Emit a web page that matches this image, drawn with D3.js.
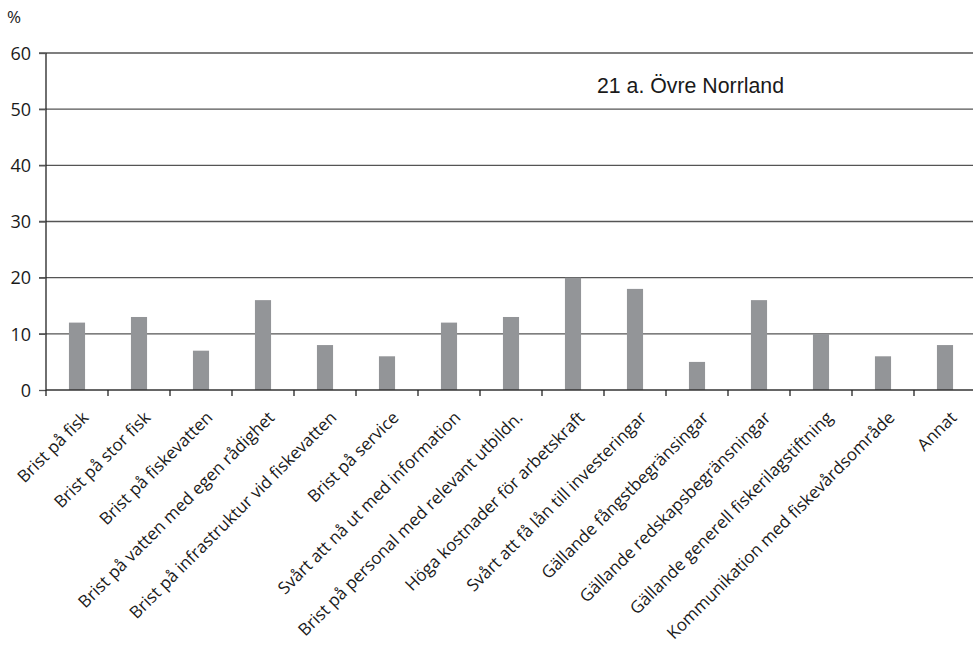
<!DOCTYPE html>
<html><head><meta charset="utf-8">
<script src="https://cdn.jsdelivr.net/npm/d3@7"></script>
<style>body{margin:0;background:#fff}svg{display:block}text{font-family:"Open Sans","Noto Sans",sans-serif;fill:#1a1a1a}</style>
</head><body>
<svg id="c" width="973" height="653"></svg>
<script>
const categories = ["Brist på fisk","Brist på stor fisk","Brist på fiskevatten","Brist på vatten med egen rådighet","Brist på infrastruktur vid fiskevatten","Brist på service","Svårt att nå ut med information","Brist på personal med relevant utbildn.","Höga kostnader för arbetskraft","Svårt att få lån till investeringar","Gällande fångstbegränsingar","Gällande redskapsbegränsningar","Gällande generell fiskerilagstiftning","Kommunikation med fiskevårdsområde","Annat"];
const values = [12,13,7,16,8,6,12,13,20,18,5,16,10,6,8];
const yTicks = [0,10,20,30,40,50,60];
const title = "21 a. Övre Norrland";
const unit = "%";

const svg = d3.select("#c");
const L = 46, R = 976, T = 53, B = 390;
const x = d3.scaleBand().domain(categories).range([L, R]).paddingInner(0.74).paddingOuter(0.37);
const y = d3.scaleLinear().domain([0,60]).range([B, T]);

// gridlines
svg.append("g").selectAll("line").data(yTicks.filter(d=>d>0)).join("line")
  .attr("x1", L-7).attr("x2", 973).attr("y1", d=>y(d)).attr("y2", d=>y(d))
  .attr("stroke","#555").attr("stroke-width",1.3);

// bars
svg.append("g").selectAll("rect").data(values).join("rect")
  .attr("x",(d,i)=>x(categories[i])).attr("width",x.bandwidth())
  .attr("y",d=>y(d)).attr("height",d=>B-y(d)).attr("fill","#939598");

// y axis
const ya = d3.axisLeft(y).tickValues(yTicks).tickSize(7).tickPadding(8);
const gy = svg.append("g").attr("transform",`translate(${L},0)`).call(ya);
gy.select(".domain").attr("stroke","#222").attr("stroke-width",1.3).attr("d",`M0,${T}V${B}`);
gy.selectAll(".tick line").attr("stroke","#555").attr("stroke-width",1.3);
gy.selectAll(".tick text").style("font-size","18px").style("font-family","'Open Sans',sans-serif").attr("dy","0.35em").attr("fill","#1a1a1a");

// x axis baseline with boundary ticks
const step = x.step();
svg.append("line").attr("x1",L).attr("x2",973).attr("y1",B).attr("y2",B).attr("stroke","#333").attr("stroke-width",1.3);
svg.append("g").selectAll("line").data(d3.range(categories.length)).join("line")
  .attr("x1",(d)=>L+d*step).attr("x2",(d)=>L+d*step).attr("y1",B).attr("y2",B+6)
  .attr("stroke","#222").attr("stroke-width",1.3);

// x labels
svg.append("g").selectAll("text").data(categories).join("text")
  .attr("transform",d=>`translate(${x(d)+x.bandwidth()/2+4},${B+20}) rotate(-45)`)
  .attr("text-anchor","end").attr("dy","0.72em").style("font-size","17px").text(d=>d);

svg.append("text").attr("x",7).attr("y",23).style("font-size","17px").text(unit);
svg.append("text").attr("x",597).attr("y",93).style("font-size","21.3px").style("font-family","'Liberation Sans',Arial,sans-serif").text(title);
</script>
</body></html>
